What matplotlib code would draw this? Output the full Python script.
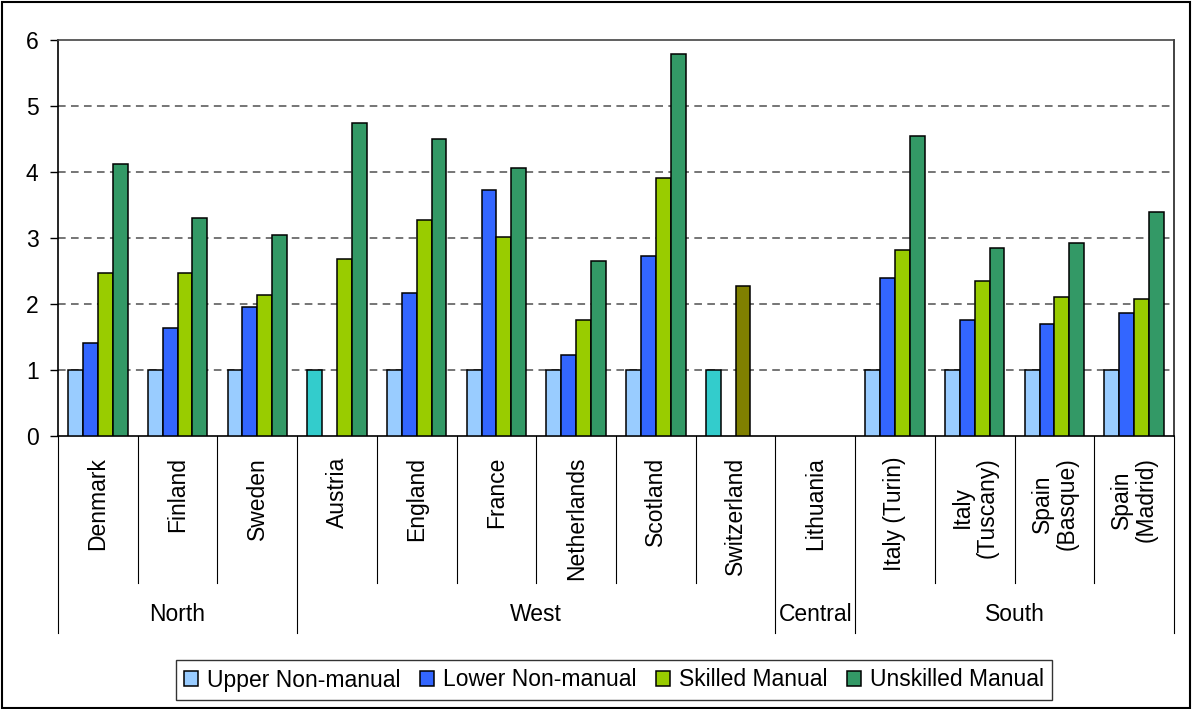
import matplotlib
matplotlib.use('Agg')
import matplotlib.pyplot as plt
import matplotlib.patches as mpatches
from matplotlib.transforms import blended_transform_factory
import numpy as np

plt.rcParams['font.family'] = ['Liberation Sans', 'DejaVu Sans']

# 数据
countries = ['Denmark', 'Finland', 'Sweden', 'Austria', 'England', 'France',
             'Netherlands', 'Scotland', 'Switzerland', 'Lithuania',
             'Italy (Turin)', 'Italy\n(Tuscany)', 'Spain\n(Basque)',
             'Spain\n(Madrid)']
regions = ['North', 'West', 'Central', 'South']
region_sizes = [3, 6, 1, 4]
series = ['Upper Non-manual', 'Lower Non-manual', 'Skilled Manual',
          'Unskilled Manual']
nan = np.nan
upper_nonmanual = [1, 1, 1, 1, 1, 1, 1, 1, 1, nan, 1, 1, 1, 1]
lower_nonmanual = [1.41, 1.64, 1.96, nan, 2.16, 3.72, 1.23, 2.73, nan, nan,
                   2.39, 1.76, 1.70, 1.87]
skilled_manual = [2.47, 2.47, 2.13, 2.68, 3.28, 3.02, 1.76, 3.91, 2.27, nan,
                  2.82, 2.35, 2.10, 2.07]
unskilled_manual = [4.12, 3.31, 3.05, 4.75, 4.50, 4.06, 2.65, 5.79, nan, nan,
                    4.55, 2.85, 2.93, 3.40]

colors = ['#99CCFF', '#3366FF', '#99CC00', '#339966']
# 个别柱子颜色不同 (国家序号, 系列序号) -> 颜色
special_colors = {(3, 0): '#33CCCC', (8, 0): '#33CCCC', (8, 2): '#808000'}

fs = 16.5
fig = plt.figure(figsize=[11.92, 7.09], dpi=100)
ax = fig.add_axes([58/1192, 1-436/709, (1174-58)/1192, (436-40)/709])

x = np.arange(len(countries))
w = 0.186
vals = [upper_nonmanual, lower_nonmanual, skilled_manual, unskilled_manual]
for j, v in enumerate(vals):
    cs = [special_colors.get((i, j), colors[j]) for i in range(len(countries))]
    ax.bar(x + (j-1.5)*w, v, width=w, color=cs, edgecolor='black',
           linewidth=1.1, label=series[j], zorder=3)

ax.set_xlim(-0.5, len(countries)-0.5)
ax.set_ylim(0, 6)
ax.set_yticks(range(7))
# 网格虚线 (顶部为实线边框)
ax.hlines(range(1, 6), -0.5, len(countries)-0.5, linestyles=(0, (5, 3.5)),
          colors='#505050', lw=1.1, zorder=0)
ax.set_xticks([])
ax.tick_params(axis='y', direction='out', length=6, width=1, pad=8,
               labelsize=fs)
for sp in ax.spines.values():
    sp.set_linewidth(1.2)
ax.spines['top'].set_color('#444444')
ax.spines['right'].set_color('#222222')

# 分类轴标签与分隔线
trans = blended_transform_factory(ax.transData, ax.transAxes)
for i, c in enumerate(countries):
    ax.text(i, -0.053, c, rotation=90, ha='center', va='top',
            multialignment='center', fontsize=fs, transform=trans,
            linespacing=1.1)
bounds = np.cumsum([0] + region_sizes) - 0.5
for b in np.arange(len(countries)+1) - 0.5:
    low = -0.497 if b in bounds else -0.371
    ax.plot([b, b], [0, low], color='black', lw=0.8, transform=trans,
            clip_on=False)
for k, r in enumerate(regions):
    ax.text((bounds[k]+bounds[k+1])/2, -0.452, r, ha='center', va='center',
            fontsize=fs, transform=trans)

leg = ax.legend(loc='center', bbox_to_anchor=(614/1192, 1-680/709),
                bbox_transform=fig.transFigure, ncol=4, fontsize=fs,
                frameon=True, fancybox=False, edgecolor='black',
                handlelength=0.6, handleheight=0.6, handletextpad=0.4,
                columnspacing=0.85, borderpad=0.35, borderaxespad=0)
leg.get_frame().set_linewidth(1.0)

# 图框
fig.patches.append(mpatches.Rectangle((2/1192, 1/709), 1188/1192, 706/709,
                                      transform=fig.transFigure, fill=False,
                                      edgecolor='black', lw=1.5))

fig.savefig('out.png', dpi=100)
